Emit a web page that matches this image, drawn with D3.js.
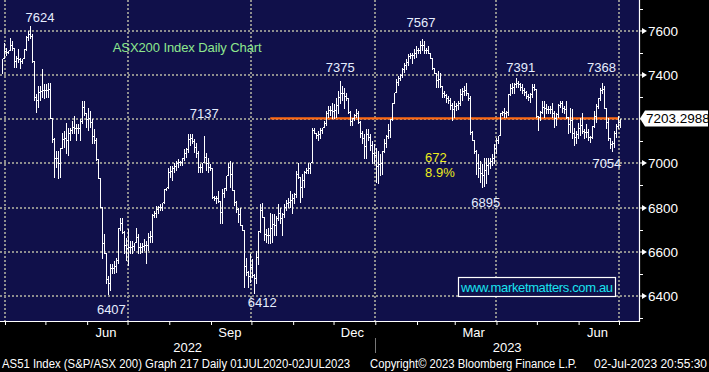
<!DOCTYPE html>
<html>
<head>
<meta charset="utf-8">
<script src="https://cdn.jsdelivr.net/npm/d3@7"></script>
<style>
body { margin: 0; background: #000; }
svg { display: block; }
text { font-family: "Liberation Sans", Arial, sans-serif; }
</style>
</head>
<body>
<svg id="chart" width="709" height="372"></svg>
<script>
// daily high / low of the AS51 index (left to right)
const high = [
  7475,7550,7528,7513,7573,7558,7528,7490,7520,7483,7475,7520,7581,7603,7624,7588,7467,7317,7354,7354,
  7430,7362,7362,7370,7370,7204,7121,7060,7060,7075,7143,7151,7189,7166,7166,7196,7219,7181,7181,7204,
  7287,7287,7234,7256,7241,7204,7158,7121,7023,6932,6804,6683,6593,6495,6548,6548,6563,6578,6713,6759,
  6759,6698,6668,6706,
  6653,6653,6646,6714,6684,6646,6646,6661,6653,6691,6699,6774,6789,6812,6812,6819,6827,6887,6895,6985,
  6993,6993,7008,7015,7023,7015,7030,7068,7076,7136,7136,7137,7113,7098,7061,7000,7008,7128,7053,7030,
  7000,6985,6857,6857,6880,6834,6887,6895,6947,7008,7015,7008,6880,6834,6804,6804,6714,6699,6578,6518,
  6593,6571,
  6502,6608,6698,6819,6826,6759,6706,6713,6781,6774,6774,6766,6819,6804,6781,6819,6841,6849,6879,6864,
  6872,6970,7007,6940,6955,6970,6985,7007,7007,7166,7166,7143,7151,7166,7166,7196,7241,7264,7264,7279,
  7271,7301,7332,7375,7354,7347,7324,7301,7241,7211,7226,7249,7241,7196,7151,7136,7158,7158,7136,7105,
  7090,7075,
  7060,7045,7060,7113,7135,7181,7203,7279,7324,7384,7399,7407,7437,7460,7475,7497,7505,7505,7520,7535,
  7527,7558,7567,7558,7527,7535,7497,7482,7437,7407,7422,7414,7354,7331,7316,7309,7301,7279,7286,7279,
  7286,7339,7346,7354,7369,7324,7309,7150,7105,7067,7045,7015,7000,7030,7030,7030,7030,7045,7090,7120,
  7128,
  7234,7242,7257,7242,7317,7362,7370,7370,7391,7377,7370,7362,7347,7332,7317,7324,7362,7362,7340,7219,
  7242,7287,7287,7272,7264,7264,7279,7242,7234,7272,7287,7287,7264,7287,7211,7257,7249,7166,7151,7189,
  7211,7234,7159,7181,7159,7128,7174,7242,7272,7302,7347,7368,7355,7249,7211,7121,7106,7151,7181,7219,
  7204
];
const low = [
  7407,7490,7490,7498,7513,7513,7437,7437,7460,7430,7452,7475,7513,7558,7566,7460,7287,7234,7256,7287,
  7302,7294,7302,7302,7204,7098,6940,6985,6932,6940,7068,7075,7045,7038,7106,7136,7136,7106,7136,7106,
  7181,7219,7166,7151,7166,7091,7091,7015,6932,6804,6570,6593,6457,6407,6427,6502,6502,6510,6548,6698,
  6683,6593,6563,6540,
  6593,6593,6608,6646,6593,6593,6601,6608,6548,6608,6646,6646,6759,6759,6774,6789,6789,6819,6880,6887,
  6940,6925,6963,6970,6985,6993,6993,7015,7030,7053,7083,7091,7053,7030,6963,6963,6963,7008,6970,6963,
  6970,6842,6834,6819,6827,6729,6729,6849,6880,6955,6895,6880,6812,6782,6736,6721,6699,6442,6495,6442,
  6465,6487,
  6412,6457,6547,6691,6759,6653,6645,6638,6638,6645,6676,6676,6743,6728,6676,6759,6789,6804,6804,6774,
  6819,6849,6932,6826,6849,6894,6955,6955,6955,7007,7136,7113,7105,7113,7136,7166,7173,7211,7218,7203,
  7203,7211,7226,7271,7286,7249,7286,7226,7173,7173,7196,7211,7181,7120,7090,7022,7022,7105,7060,7000,
  7000,6917,
  6909,6947,6954,7052,7075,7113,7120,7196,7271,7324,7354,7377,7392,7414,7429,7444,7475,7452,7475,7482,
  7497,7497,7512,7497,7497,7497,7475,7429,7407,7346,7346,7346,7301,7301,7279,7271,7248,7196,7211,7241,
  7248,7263,7286,7309,7309,7286,7135,7105,7045,6954,6939,6917,6895,6899,6909,6954,6977,6992,7000,7045,
  7090,
  7174,7219,7211,7211,7219,7309,7317,7317,7347,7347,7332,7317,7309,7294,7287,7279,7302,7332,7211,7151,
  7196,7226,7211,7226,7226,7226,7211,7166,7174,7211,7257,7234,7226,7204,7136,7144,7113,7083,7091,7113,
  7128,7136,7113,7121,7106,7098,7113,7166,7189,7249,7287,7317,7249,7159,7106,7068,7054,7076,7121,7159,
  7166
];
const firstBarDate = "2022-03-30";
const lastBarDate = "2023-07-02";

const yTicks = [6400, 6600, 6800, 7000, 7200, 7400, 7600];
const yMinorTicks = [6300, 6500, 6700, 6900, 7100, 7300, 7500, 7700];
const quarterLines = ["2022-04-01", "2022-07-01", "2022-10-01", "2023-01-01", "2023-04-01", "2023-07-01"];
const monthLabels = ["Jun", "Sep", "Dec", "Mar", "Jun"];
const monthLabelDates = ["2022-06-15", "2022-09-15", "2022-12-15", "2023-03-15", "2023-06-15"];
const yearLabels = ["2022", "2023"];
const yearStarts = ["2022-01-01", "2023-01-01"];

const lastPrice = 7203.2988;
const levelFrom = "2022-10-15";
const levelTo = "2023-07-01";

// peak / trough labels: text, date, price
const peakLabels = [
  ["7624", "2022-04-27", 7639],
  ["7137", "2022-08-27", 7205],
  ["6407", "2022-06-19", 6318],
  ["6412", "2022-10-09", 6350],
  ["7375", "2022-12-06", 7413],
  ["7567", "2023-02-04", 7617],
  ["6895", "2023-03-24", 6803],
  ["7391", "2023-04-19", 7413],
  ["7368", "2023-06-18", 7413],
  ["7054", "2023-06-22", 6979]
];
const moveLabels = ["672", "8.9%"];
const moveLabelDate = "2023-02-07";
const moveLabelPrices = [7006, 6938];
const title = "ASX200 Index Daily Chart";
const titleDate = "2022-06-20";
const titlePrice = 7504;

const footer = [
  "AS51 Index (S&P/ASX 200) Graph 217  Daily 01JUL2020-02JUL2023",
  "Copyright\u00a9 2023 Bloomberg Finance L.P.",
  "02-Jul-2023 20:55:30"
];

const panel = { left: 0, top: 0, right: 639, bottom: 321 };
const parse = d3.utcParse("%Y-%m-%d");

const svg = d3.select("#chart");

const x = d3.scaleUtc()
  .domain([parse("2022-04-01"), parse("2023-07-01")])
  .range([5, 619]);
const y = d3.scaleLinear()
  .domain([6400, 7600])
  .range([296, 30.7]);
const xi = d3.scaleLinear()
  .domain([0, high.length - 1])
  .range([x(parse(firstBarDate)), x(parse(lastBarDate))]);

svg.append("rect")
  .attr("x", panel.left).attr("y", panel.top)
  .attr("width", panel.right - panel.left).attr("height", panel.bottom - panel.top)
  .attr("fill", "#10104a");

// dotted grid
const grid = svg.append("g")
  .attr("stroke", "#8e8e8e")
  .attr("stroke-width", 2)
  .attr("stroke-dasharray", "2,2")
  .attr("shape-rendering", "crispEdges");
grid.selectAll(".h").data(yTicks).enter().append("line")
  .attr("x1", panel.left).attr("x2", panel.right)
  .attr("y1", d => Math.round(y(d))).attr("y2", d => Math.round(y(d)));
grid.selectAll(".v").data(quarterLines).enter().append("line")
  .attr("y1", panel.top).attr("y2", panel.bottom)
  .attr("x1", d => Math.round(x(parse(d)))).attr("x2", d => Math.round(x(parse(d))));

// orange level line
svg.append("line")
  .attr("x1", x(parse(levelFrom))).attr("x2", x(parse(levelTo)))
  .attr("y1", y(lastPrice)).attr("y2", y(lastPrice))
  .attr("stroke", "#ff6a13")
  .attr("stroke-width", 2.2);

// high-low bars, joined bar to bar like the bloomberg open/close ticks
const path = d3.path();
high.forEach((h, i) => {
  const l = low[i];
  const bx = Math.round(xi(i)) + 0.5;
  path.moveTo(bx, Math.round(y(h)) + 0.5);
  path.lineTo(bx, Math.round(y(l)) + 0.5);
  if (i === high.length - 1) return;
  const nh = high[i + 1], nl = low[i + 1];
  const nx = Math.round(xi(i + 1)) + 0.5;
  const top = Math.min(h, nh), bot = Math.max(l, nl);
  if (top >= bot) {
    const lv = Math.round(y((top + bot) / 2)) + 0.5;
    path.moveTo(bx, lv);
    path.lineTo(nx, lv);
  } else if (nl > h) {
    const a = Math.round(y(h)) + 0.5;
    path.moveTo(bx, a);
    path.lineTo(nx, a);
    path.lineTo(nx, Math.round(y(nl)) + 0.5);
  } else {
    const a = Math.round(y(l)) + 0.5;
    path.moveTo(bx, a);
    path.lineTo(nx, a);
    path.lineTo(nx, Math.round(y(nh)) + 0.5);
  }
});
svg.append("path")
  .attr("d", path.toString())
  .attr("fill", "none")
  .attr("stroke", "#fff")
  .attr("stroke-width", 1)
  .attr("shape-rendering", "crispEdges");

// annotations
svg.append("g").selectAll("text").data(peakLabels).enter().append("text")
  .attr("x", d => x(parse(d[1])))
  .attr("y", d => y(d[2]))
  .attr("text-anchor", "middle")
  .attr("font-size", 13)
  .attr("fill", "#e6eeff")
  .text(d => d[0]);

svg.append("g").selectAll("text").data(moveLabels).enter().append("text")
  .attr("x", x(parse(moveLabelDate)))
  .attr("y", (d, i) => y(moveLabelPrices[i]))
  .attr("font-size", 13)
  .attr("fill", "#ecec1c")
  .text(d => d);

svg.append("text")
  .attr("x", x(parse(titleDate)))
  .attr("y", y(titlePrice))
  .attr("font-size", 13)
  .attr("fill", "#8ee88e")
  .attr("textLength", 149)
  .text(title);

// watermark
svg.append("rect")
  .attr("x", 458.5).attr("y", 277.5).attr("width", 157).attr("height", 19)
  .attr("fill", "#10104a").attr("stroke", "#fff").attr("stroke-width", 1.2);
svg.append("text")
  .attr("x", 461).attr("y", 292)
  .attr("font-size", 13)
  .attr("fill", "#19e3f0")
  .attr("textLength", 152)
  .text("www.marketmatters.com.au");

// right axis
const axisG = svg.append("g").attr("transform", `translate(${panel.right},0)`);
axisG.append("line")
  .attr("x1", 0.5).attr("x2", 0.5).attr("y1", 0).attr("y2", panel.bottom + 1)
  .attr("stroke", "#fff").attr("stroke-width", 1.2);
axisG.selectAll(".minor").data(yMinorTicks).enter().append("line")
  .attr("x1", 0).attr("x2", 4)
  .attr("y1", d => Math.round(y(d)) + 0.5).attr("y2", d => Math.round(y(d)) + 0.5)
  .attr("stroke", "#fff");
axisG.selectAll(".major").data(yTicks).enter().append("path")
  .attr("d", d => { const ty = Math.round(y(d)); return `M0,${ty - 0.5}H3V${ty + 0.5}H0Z M3,${ty - 3}L8,${ty}L3,${ty + 3}Z`; })
  .attr("fill", "#fff");

// the last-price tag hides the tick label it sits on
const ly = y(lastPrice);
axisG.selectAll(".lab").data(yTicks.filter(d => Math.abs(y(d) - ly) > 14)).enter().append("text")
  .attr("x", 9)
  .attr("y", d => y(d) + 5)
  .attr("font-size", 13.5)
  .attr("fill", "#fff")
  .text(d => d);

axisG.append("path")
  .attr("d", `M1,${ly} L6,${ly - 8} H69 V${ly + 8} H6 Z`)
  .attr("fill", "#fff");
axisG.append("text")
  .attr("x", 7).attr("y", ly + 5)
  .attr("font-size", 13.5)
  .attr("fill", "#000")
  .text(d3.format(".4f")(lastPrice));

// bottom axis
svg.append("line")
  .attr("x1", panel.left).attr("x2", panel.right + 1)
  .attr("y1", panel.bottom + 0.5).attr("y2", panel.bottom + 0.5)
  .attr("stroke", "#fff").attr("stroke-width", 1.2);
const xAxis = d3.axisBottom(x)
  .ticks(d3.utcMonth.every(1))
  .tickSize(4)
  .tickFormat("");
const xg = svg.append("g")
  .attr("transform", `translate(0,${panel.bottom})`)
  .call(xAxis);
xg.select(".domain").remove();
xg.selectAll("line").attr("stroke", "#fff");

svg.append("g").selectAll("text").data(monthLabels).enter().append("text")
  .attr("x", (d, i) => x(parse(monthLabelDates[i])))
  .attr("y", 337)
  .attr("text-anchor", "middle")
  .attr("font-size", 13)
  .attr("fill", "#fff")
  .text(d => d);

const yearEdges = yearStarts.map(d => Math.max(panel.left, x(parse(d))));
svg.append("g").selectAll("text").data(yearLabels).enter().append("text")
  .attr("x", (d, i) => (yearEdges[i] + (i + 1 < yearEdges.length ? yearEdges[i + 1] : panel.right)) / 2)
  .attr("y", 352)
  .attr("text-anchor", "middle")
  .attr("font-size", 13)
  .attr("fill", "#fff")
  .text(d => d);
svg.append("line")
  .attr("x1", Math.round(yearEdges[1]) + 0.5).attr("x2", Math.round(yearEdges[1]) + 0.5)
  .attr("y1", 338).attr("y2", 353)
  .attr("stroke", "#777");

// footer
const footerX = [2, 370, 594];
const footerLen = [348, 207, 113];
svg.append("g").selectAll("text").data(footer).enter().append("text")
  .attr("x", (d, i) => footerX[i])
  .attr("y", 368)
  .attr("font-size", 12)
  .attr("fill", "#fff")
  .attr("textLength", (d, i) => footerLen[i])
  .attr("lengthAdjust", "spacingAndGlyphs")
  .text(d => d);
</script>
</body>
</html>
